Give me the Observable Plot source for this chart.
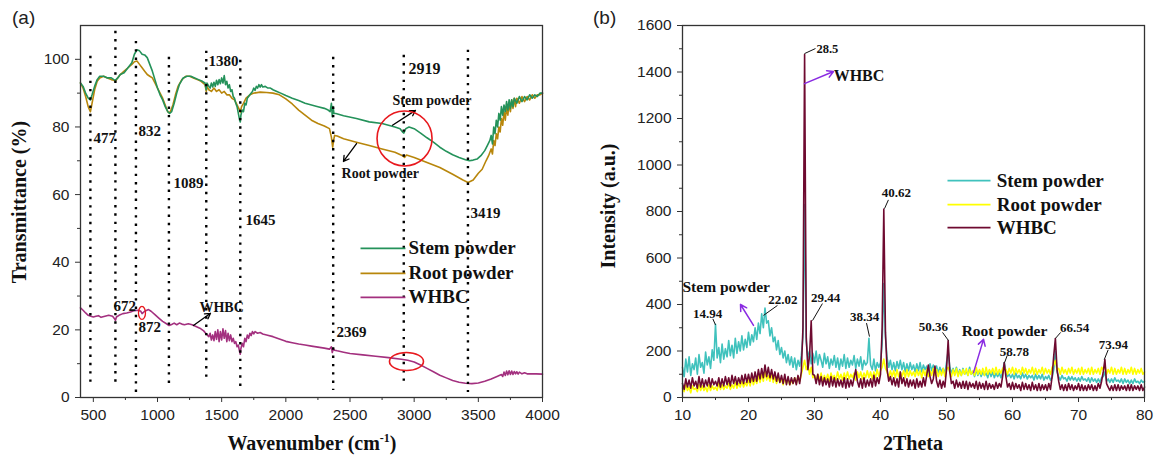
<!DOCTYPE html>
<html><head><meta charset="utf-8">
<script src="https://cdn.jsdelivr.net/npm/d3@7"></script>
<script src="https://cdn.jsdelivr.net/npm/@observablehq/plot@0.6"></script>
<style>
body{margin:0;background:#fff;}
#wrap{position:relative;width:1154px;height:455px;overflow:hidden;background:#fff;}
#wrap svg{position:absolute;top:0;}
.lab{position:absolute;z-index:2;font-family:'Liberation Serif','Times New Roman',serif;font-weight:bold;font-size:20px;color:#111;white-space:nowrap;transform:translate(-50%,-50%);}
.rot{transform:translate(-50%,-50%) rotate(-90deg);}
.pan{position:absolute;z-index:2;font-family:'Liberation Sans',Arial,sans-serif;font-size:19px;color:#222;}
</style></head><body>
<div id="wrap">
  <div class="pan" style="left:12px;top:7px">(a)</div>
  <div class="pan" style="left:593px;top:7px">(b)</div>
  <div class="lab rot" style="left:19px;top:202px">Transmittance (%)</div>
  <div class="lab" style="left:312px;top:443px">Wavenumber (cm<sup style="font-size:12px">-1</sup>)</div>
  <div class="lab rot" style="left:608px;top:206px">Intensity (a.u.)</div>
  <div class="lab" style="left:913px;top:443px">2Theta</div>
</div>
<script>
// ---------- Panel (a): FTIR ----------
const xTicksA = [500,1000,1500,2000,2500,3000,3500,4000];
const xMinorA = [750,1250,1750,2250,2750,3250,3750];
const yTicksA = [0,20,40,60,80,100];
const yMinorA = [10,30,50,70,90];

const stemA = [[400,93],[420,92],[440,90],[460,88.5],[477,88],[490,89.5],[510,92],[530,94],[550,95],[580,95],[610,94.5],[640,94.5],[660,94],[672,93.8],[690,94.5],[710,95.5],[740,96],[770,97.5],[800,99],[820,101.5],[840,102.8],[860,102.5],[880,101.5],[900,101.3],[920,100.5],[940,98.5],[960,96.5],[980,94],[1000,91.5],[1020,89.5],[1040,88],[1060,86],[1080,84.5],[1095,84],[1110,84.5],[1130,87],[1150,90],[1170,92.5],[1200,94.5],[1230,95],[1260,95],[1290,94.5],[1320,94],[1350,93.5],[1370,93],[1380,91],[1385,93],[1400,92],[1410,91.5],[1420,93],[1430,91.8],[1440,93.2],[1450,92],[1460,93.8],[1470,92.5],[1480,94],[1490,92.8],[1500,94.5],[1510,93],[1520,95.2],[1530,92.5],[1540,93.5],[1550,91.5],[1560,92.5],[1570,90.5],[1580,91],[1590,89],[1600,88.5],[1610,87],[1620,86],[1630,84],[1640,82],[1645,81.5],[1650,83.5],[1660,85],[1670,84.5],[1680,87],[1690,86.5],[1700,88.5],[1720,89.5],[1740,90.5],[1750,91.5],[1760,90.8],[1770,92],[1780,91.5],[1790,92.5],[1800,91.8],[1810,92.5],[1820,91.8],[1840,92],[1860,91.5],[1880,91.5],[1900,91],[1930,90.5],[1960,90],[2000,89.3],[2050,88.5],[2100,87.8],[2150,87],[2200,86.5],[2250,86],[2300,85.5],[2330,85],[2345,84.5],[2355,87],[2362,83],[2368,86],[2375,84],[2390,84],[2450,83.3],[2550,82.5],[2650,81.5],[2750,81],[2850,80],[2890,79.5],[2910,78.5],[2920,78.2],[2935,79.5],[2960,80],[3000,79.5],[3050,78.2],[3100,76.8],[3150,75.5],[3200,74],[3250,72.8],[3300,71.8],[3350,71],[3400,70.3],[3430,70],[3460,70.2],[3490,70.5],[3520,71.5],[3550,73],[3570,74.5],[3590,76],[3600,77.5],[3610,75],[3620,80],[3630,78],[3640,82],[3650,80],[3660,84],[3670,82],[3680,86],[3690,83.5],[3700,86.5],[3710,84.5],[3720,87.5],[3730,85],[3740,88],[3750,85.5],[3760,88],[3770,86],[3780,88.5],[3800,87],[3820,89],[3840,87.5],[3860,89],[3880,88],[3900,89.5],[3920,88.5],[3940,89.5],[3960,89],[3980,90],[4000,90]];

const rootA = [[400,93],[420,91.5],[440,89],[460,86],[477,84.5],[490,87],[510,91],[530,93.5],[550,94.5],[580,95],[610,94.5],[640,94],[660,93.8],[672,93.5],[690,94.5],[710,95.5],[740,96.5],[770,97.5],[800,98.5],[820,99.3],[840,99.5],[860,98.5],[880,97.5],[900,96.5],[920,95.5],[940,95],[960,94.5],[980,93],[1000,91.5],[1020,90],[1040,88.5],[1060,86.5],[1080,84.5],[1090,84.2],[1100,84.5],[1120,86.5],[1140,89.5],[1160,92],[1190,94],[1220,95],[1250,95],[1280,94.5],[1310,94],[1340,93.5],[1370,92.5],[1380,90.5],[1385,92],[1400,91],[1420,90.5],[1440,91.5],[1460,90.5],[1480,91],[1500,90],[1520,90.5],[1540,89.5],[1560,89.5],[1580,88.5],[1600,88],[1620,86.5],[1640,85],[1645,84.3],[1655,86],[1670,87],[1690,88.5],[1720,89.5],[1750,90],[1800,90.3],[1850,90.2],[1900,90],[1950,89.5],[2000,88.3],[2050,86.8],[2100,85],[2150,83.5],[2200,82],[2250,81],[2300,80.3],[2340,79.5],[2355,77],[2365,74],[2372,76],[2380,77.5],[2400,77.3],[2450,76.5],[2550,75.5],[2650,74.5],[2750,73.5],[2850,72.5],[2910,71.5],[2925,71],[2940,71.7],[3000,71],[3100,69.5],[3200,68],[3300,66],[3380,64.3],[3420,63.6],[3460,64.3],[3500,66.3],[3530,67.5],[3560,70],[3580,71.5],[3600,73.5],[3610,72],[3620,76],[3630,74.5],[3640,78],[3650,76.5],[3660,80],[3670,78.5],[3680,82.5],[3690,80.5],[3700,84.5],[3710,82],[3720,86],[3730,83.5],[3740,87],[3750,84.5],[3760,88],[3770,85.5],[3780,88.5],[3790,86],[3800,88.5],[3820,87],[3840,89],[3860,87.5],[3880,89],[3900,88],[3920,89.5],[3940,88.5],[3960,89.5],[3980,89.5],[4000,90]];

const whbcA = [[400,26.5],[420,25.8],[440,25],[460,24.3],[480,24],[500,23.8],[520,24],[540,24.2],[560,23.7],[590,24],[620,24.3],[650,24],[665,23.3],[672,22.8],[680,23.8],[700,24.3],[730,24.8],[760,25],[790,25.3],[820,25.7],[850,25.8],[870,25.5],[880,24.8],[900,25.5],[930,26],[950,25.5],[980,24.5],[1010,23.5],[1040,22.5],[1070,21.8],[1090,21.3],[1110,21.6],[1130,22],[1150,21.5],[1170,22],[1190,21.7],[1210,21.5],[1240,21.8],[1270,21.5],[1300,21],[1330,20.5],[1360,19.7],[1380,18.8],[1400,18],[1410,19],[1420,17],[1430,18.5],[1440,16.8],[1450,19.5],[1460,17.2],[1470,20],[1480,16.5],[1490,19.5],[1500,17],[1510,20.3],[1520,17.5],[1530,19.8],[1540,16.5],[1550,19],[1560,16.8],[1570,18.5],[1580,16.5],[1590,17.5],[1600,16],[1610,16.5],[1620,15],[1630,15.5],[1640,13.5],[1645,12.8],[1650,14.5],[1660,16],[1670,15],[1680,17.5],[1690,16.5],[1700,18.5],[1710,17.5],[1720,19],[1730,18.3],[1740,19.5],[1750,18.8],[1760,19.5],[1780,19],[1800,19.2],[1820,18.8],[1850,18.5],[1900,18],[1950,17.3],[2000,16.6],[2050,16.2],[2100,15.8],[2150,15.5],[2200,15.2],[2250,14.9],[2300,14.6],[2340,14.3],[2355,15],[2362,13.3],[2370,14.5],[2380,14],[2400,13.8],[2450,13.4],[2500,13],[2600,12.6],[2700,12.2],[2800,11.8],[2900,11.3],[2950,11],[3000,10.5],[3050,9.6],[3100,8.6],[3150,7.6],[3200,6.6],[3250,5.8],[3300,5],[3350,4.5],[3400,4.2],[3450,4.1],[3500,4.3],[3550,4.8],[3600,5.5],[3650,6.3],[3680,6.8],[3690,6.2],[3700,7.5],[3710,6.5],[3720,7.8],[3730,6.7],[3740,7.9],[3750,6.8],[3760,7.8],[3770,6.8],[3780,7.7],[3790,7],[3800,7.6],[3810,6.9],[3820,7.5],[3840,7],[3860,7.3],[3880,7],[3900,7],[3950,7],[4000,6.9]];

const bandsA = [477,672,832,1089,1380,1645,2369,2919,3419];
const bandTopA = [100.9,108.3,105.3,100.6,102.4,99.7,100.6,101.2,102.7];
const bandBottomA = [2.7,3.6,1.2,2.7,4.4,2.7,2.1,3.0,1.5];

const labelsA = [
  {x:501,y:76.6,t:"477",s:15},{x:852,y:78.7,t:"832",s:15},{x:1125,y:63.3,t:"1089",s:15},
  {x:1397,y:99.4,t:"1380",s:15},{x:1686,y:52.4,t:"1645",s:15},{x:2956,y:97.3,t:"2919",s:16},
  {x:3439,y:54.4,t:"3419",s:15},{x:2395,y:19.2,t:"2369",s:15},{x:657,y:26.9,t:"672",s:15},
  {x:852,y:20.7,t:"872",s:15},{x:1327,y:26.6,t:"WHBC",s:14},
  {x:2831,y:87.9,t:"Stem powder",s:14},{x:2434,y:66.3,t:"Root powder",s:14}
];
const arrowsA = [
  {x1:2831,y1:80.5,x2:3010,y2:84.9},
  {x1:2551,y1:75.1,x2:2449,y2:69.8},
  {x1:1280,y1:21.3,x2:1413,y2:24.9}
];
const seriesNames = ["Stem powder","Root powder","WHBC"];
const colorsA = ["#24925a","#b8860b","#a3307f"];
const colorsB = ["#40c2bd","#ffff00","#6e0a30"];

function ellipse(rx, ry) {
  const k = 0.5523;
  return {draw(c) {
    c.moveTo(rx, 0);
    c.bezierCurveTo(rx, ry*k, rx*k, ry, 0, ry);
    c.bezierCurveTo(-rx*k, ry, -rx, ry*k, -rx, 0);
    c.bezierCurveTo(-rx, -ry*k, -rx*k, -ry, 0, -ry);
    c.bezierCurveTo(rx*k, -ry, rx, -ry*k, rx, 0);
    c.closePath();
  }};
}

const serif = "'Liberation Serif','Times New Roman',serif";
const baseStyle = {fontFamily:"'Liberation Sans',Arial,sans-serif", fontSize:"15.5px", color:"#222", background:"transparent", overflow:"visible"};

const legendYA = [44.1, 36.7, 29.6];
const legA = seriesNames.map((n,i)=>({n, c:colorsA[i], y:legendYA[i]}));

const plotA = Plot.plot({
  width:577, height:455, marginLeft:80, marginRight:35, marginTop:25, marginBottom:58,
  x:{domain:[400,4000]}, y:{domain:[0,110]},
  style: baseStyle,
  marks:[
    Plot.axisX({ticks:xTicksA, tickSize:5, tickPadding:6, label:null, tickFormat:d=>String(d), stroke:"#333"}),
    Plot.axisX({ticks:xMinorA, tickSize:3, label:null, tickFormat:()=>"", stroke:"#333"}),
    Plot.axisY({ticks:yTicksA, tickSize:5, tickPadding:6, label:null, tickFormat:d=>String(d), stroke:"#333"}),
    Plot.axisY({ticks:yMinorA, tickSize:3, label:null, tickFormat:()=>"", stroke:"#333"}),
    Plot.line(whbcA, {x:d=>d[0], y:d=>d[1], stroke:colorsA[2], strokeWidth:1.6}),
    Plot.line(rootA, {x:d=>d[0], y:d=>d[1], stroke:colorsA[1], strokeWidth:1.6}),
    Plot.line(stemA, {x:d=>d[0], y:d=>d[1], stroke:colorsA[0], strokeWidth:1.6}),
    Plot.ruleX(bandsA, {x:d=>d, y1:(d,i)=>bandTopA[i], y2:(d,i)=>bandBottomA[i], stroke:"#000", strokeWidth:2.4, strokeDasharray:"2.4,5.9"}),
    Plot.text(labelsA, {x:"x", y:"y", text:"t", fontSize:"s", textAnchor:"start", fontFamily:serif, fontWeight:"bold", fill:"#111"}),
    Plot.arrow(arrowsA, {x1:"x1", y1:"y1", x2:"x2", y2:"y2", stroke:"#000", strokeWidth:1.3, headLength:7}),
    Plot.dot([{x:2925,y:76.6}], {x:"x", y:"y", r:27.5, stroke:"#e8191e", strokeWidth:1.6, fill:"none"}),
    Plot.dot([{x:2940,y:10.65}], {x:"x", y:"y", symbol:ellipse(17,9), stroke:"#e8191e", strokeWidth:1.6, fill:"none"}),
    Plot.dot([{x:879,y:25}], {x:"x", y:"y", symbol:ellipse(3.5,6.5), stroke:"#e8191e", strokeWidth:1.3, fill:"none"}),
    Plot.link(legA, {x1:()=>2582, x2:()=>2932, y1:"y", y2:"y", stroke:d=>d.c, strokeWidth:1.8}),
    Plot.text(legA, {x:()=>2956, y:"y", text:"n", textAnchor:"start", fontFamily:serif, fontWeight:"bold", fontSize:19, fill:"#111"}),
    Plot.frame({stroke:"#333", strokeWidth:1.3})
  ]
});
plotA.style.left = "0px";

// ---------- Panel (b): XRD ----------
const xTicksB = [10,20,30,40,50,60,70,80];
const xMinorB = [15,25,35,45,55,65,75];
const yTicksB = [0,200,400,600,800,1000,1200,1400,1600];
const yMinorB = [100,300,500,700,900,1100,1300,1500];
const xrdStart = 10, xrdStep = 0.25;

const stemB = [
 130,90,165,110, 175,95,145,120, 170,100,185,130, 150,105,195,140, 175,125,205,160, // 10-14
 315,170,215,150, 230,165,210,175, 245,180,225,170, 255,190,240,200, 265,205,250,215, // 15-19
 280,225,270,240, 300,250,320,275, 360,300,385,320, 330,265,300,240, 260,205,245,185, // 20-24
 215,170,200,150, 185,140,175,130, 170,120,160,135, 180,260,830,240, 170,200,145,190, // 25-29
 150,200,140,185, 160,130,190,145, 175,125,165,140, 180,130,170,120, 165,135,185,125, // 30-34
 170,130,160,140, 180,125,165,135, 175,120,160,140, 150,255,140,120, 165,115,150,130, // 35-39
 150,230,490,260, 170,130,160,120, 150,115,155,125, 160,120,150,110, 145,115,150,120, // 40-44
 140,110,145,115, 150,110,140,120, 135,105,145,115, 140,110,135,105, 130,110,125,100, // 45-49
 150,200,130,105, 125,100,130,95, 120,95,125,100, 115,95,130,100, 110,90,120,95,      // 50-54
 115,90,110,95, 105,85,115,90, 110,85,105,90, 105,85,110,150, 110,90,100,85,          // 55-59
 100,80,105,85, 95,80,105,85, 100,80,95,85, 95,75,100,80, 95,80,100,75,               // 60-64
 90,80,95,75, 85,120,200,110, 90,75,95,80, 85,70,90,75, 90,75,85,70,                  // 65-69
 85,70,90,75, 80,70,85,65, 85,70,80,65, 80,65,85,90, 110,70,80,65,                    // 70-74
 80,65,85,70, 75,65,80,60, 80,65,75,60, 75,60,80,65, 70,60,75,65,                     // 75-79
 70];
const rootB = [
 40,25,55,30, 45,20,50,35, 40,25,55,30, 50,30,45,25, 55,30,50,35,             // 10-14
 45,30,60,35, 55,35,50,40, 60,35,55,40, 65,40,60,45, 70,45,65,50,             // 15-19
 75,50,85,55, 80,60,95,65, 100,70,110,75, 95,70,105,65, 90,60,85,65,          // 20-24
 80,55,85,60, 80,55,75,60, 85,60,90,70, 100,130,160,120, 140,100,130,85,      // 25-29
 95,70,100,75, 105,70,95,75, 100,70,105,80, 95,75,110,80, 100,75,105,80,      // 30-34
 110,80,100,85, 105,75,110,85, 110,80,105,85, 115,85,110,80, 110,85,120,90,   // 35-39
 115,130,165,125, 110,85,115,90, 115,85,120,90, 110,90,115,85, 120,90,115,95, // 40-44
 110,90,120,95, 115,85,120,95, 120,90,115,95, 125,95,120,90, 115,95,125,90,   // 45-49
 120,130,110,90, 120,95,125,90, 115,95,120,100, 125,95,120,100, 115,95,130,100, // 50-54
 120,100,125,95, 130,100,120,105, 125,100,130,100, 120,105,125,130, 120,100,125,105, // 55-59
 130,100,125,105, 120,100,130,105, 125,100,120,105, 130,100,125,100, 120,105,130,100, // 60-64
 125,105,120,100, 130,140,160,120, 125,100,130,105, 120,100,125,105, 130,100,120,105, // 65-69
 125,100,130,100, 120,105,125,100, 130,100,120,105, 125,100,130,120, 140,100,120,105, // 70-74
 130,100,125,100, 120,105,130,100, 125,100,120,105, 130,100,125,100, 120,105,125,100, // 75-79
 110];
const whbcB = [
 60,35,80,45, 75,40,85,50, 70,40,90,45, 80,45,75,50, 85,45,80,55,             // 10-14
 70,50,85,45, 80,50,90,55, 85,50,95,60, 90,55,85,60, 95,60,100,65,            // 15-19
 100,65,105,70, 110,70,120,80, 125,85,140,90, 130,85,120,80, 110,70,105,65,   // 20-24
 95,60,100,55, 90,55,85,60, 85,55,95,60, 110,300,1475,260, 120,180,330,100,   // 25-29
 95,60,100,55, 90,50,85,55, 80,45,90,50, 85,45,80,50, 75,45,85,40,            // 30-34
 80,45,75,50, 85,120,70,45, 80,40,85,45, 75,50,80,45, 95,50,85,60,            // 35-39
 100,300,810,280, 120,70,90,55, 85,50,80,45, 110,60,85,50, 80,45,75,50,       // 40-44
 75,40,80,45, 70,45,85,50, 95,140,90,60, 80,135,70,45, 75,40,70,45,           // 45-49
 120,245,110,60, 70,40,75,45, 65,40,70,40, 70,35,65,45, 60,40,70,35,          // 50-54
 65,40,60,35, 70,35,60,40, 55,35,65,40, 60,45,90,150, 90,45,60,35,            // 55-59
 65,35,60,40, 55,30,65,35, 60,35,55,30, 65,35,55,30, 60,30,55,35,             // 60-64
 55,30,60,35, 90,180,254,120, 70,35,55,30, 55,30,60,35, 55,30,50,35,          // 65-69
 60,30,55,30, 50,30,55,35, 55,30,50,30, 60,40,70,110, 163,60,45,30,           // 70-74
 50,30,55,30, 55,30,50,35, 50,30,55,30, 55,30,50,35, 50,30,55,30,             // 75-79
 45];

const toRows = arr => arr.map((v,i)=>({t: xrdStart + i*xrdStep, v}));

const peakLabelsB = [
  {x:42.4,y:882,t:"40.62"},
  {x:13.8,y:361,t:"14.94"},
  {x:25.2,y:421,t:"22.02"},
  {x:31.7,y:430,t:"29.44"},
  {x:37.6,y:348,t:"38.34"},
  {x:48.0,y:305,t:"50.36"},
  {x:60.3,y:198,t:"58.78"},
  {x:69.4,y:301,t:"66.54"},
  {x:75.3,y:228,t:"73.94"}
];
const noteLabelsB = [
  {x:30.3,y:1501,t:"28.5",s:12.5},
  {x:10.0,y:473,t:"Stem powder",s:15.5},
  {x:52.3,y:284,t:"Root powder",s:15.5},
  {x:32.9,y:1385,t:"WHBC",s:16}
];
const leadersB = [
  {x1:28.48,y1:1479,x2:30.15,y2:1501},
  {x1:40.6,y1:812,x2:41.2,y2:850},
  {x1:15.0,y1:312,x2:14.6,y2:338},
  {x1:22.27,y1:353,x2:24.39,y2:396},
  {x1:29.7,y1:331,x2:31.2,y2:404},
  {x1:38.33,y1:262,x2:37.88,y2:320},
  {x1:49.4,y1:280,x2:50.3,y2:245},
  {x1:58.8,y1:150,x2:59.2,y2:181},
  {x1:66.5,y1:254,x2:67.3,y2:280},
  {x1:73.9,y1:163,x2:74.5,y2:205}
];
const arrowsB = [
  {x1:28.48,y1:1350,x2:32.88,y2:1402},
  {x1:20.76,y1:310,x2:18.79,y2:400},
  {x1:54.09,y1:107,x2:55.61,y2:250}
];
const legendYB = [933, 830, 731];
const legB = seriesNames.map((n,i)=>({n, c:colorsB[i], y:legendYB[i]}));

const plotB = Plot.plot({
  width:577, height:455, marginLeft:105, marginRight:10, marginTop:25, marginBottom:58,
  x:{domain:[10,80]}, y:{domain:[0,1600]},
  style: baseStyle,
  marks:[
    Plot.axisX({ticks:xTicksB, tickSize:5, tickPadding:6, label:null, tickFormat:d=>String(d), stroke:"#333"}),
    Plot.axisX({ticks:xMinorB, tickSize:3, label:null, tickFormat:()=>"", stroke:"#333"}),
    Plot.axisY({ticks:yTicksB, tickSize:5, tickPadding:6, label:null, tickFormat:d=>String(d), stroke:"#333"}),
    Plot.axisY({ticks:yMinorB, tickSize:3, label:null, tickFormat:()=>"", stroke:"#333"}),
    Plot.line(toRows(stemB), {x:"t", y:"v", stroke:colorsB[0], strokeWidth:1.6}),
    Plot.line(toRows(rootB), {x:"t", y:"v", stroke:colorsB[1], strokeWidth:1.6}),
    Plot.line(toRows(whbcB), {x:"t", y:"v", stroke:colorsB[2], strokeWidth:1.6}),
    Plot.link(leadersB, {x1:"x1", y1:"y1", x2:"x2", y2:"y2", stroke:"#111", strokeWidth:1}),
    Plot.text(peakLabelsB, {x:"x", y:"y", text:"t", fontSize:13, textAnchor:"middle", fontFamily:serif, fontWeight:"bold", fill:"#111"}),
    Plot.text(noteLabelsB, {x:"x", y:"y", text:"t", fontSize:"s", textAnchor:"start", fontFamily:serif, fontWeight:"bold", fill:"#111"}),
    Plot.arrow(arrowsB, {x1:"x1", y1:"y1", x2:"x2", y2:"y2", stroke:"#8a2be2", strokeWidth:1.5, headLength:7}),
    Plot.link(legB, {x1:()=>50.15, x2:()=>56.67, y1:"y", y2:"y", stroke:d=>d.c, strokeWidth:1.8}),
    Plot.text(legB, {x:()=>57.6, y:"y", text:"n", textAnchor:"start", fontFamily:serif, fontWeight:"bold", fontSize:19, fill:"#111"}),
    Plot.frame({stroke:"#333", strokeWidth:1.3})
  ]
});
plotB.style.left = "577px";

const wrap = document.getElementById("wrap");
wrap.insertBefore(plotB, wrap.firstChild);
wrap.insertBefore(plotA, wrap.firstChild);
</script>
</body></html>
